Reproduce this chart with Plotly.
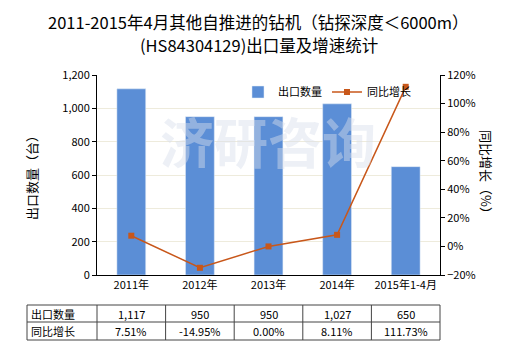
import plotly.graph_objects as go

categories = ["2011年", "2012年", "2013年", "2014年", "2015年1-4月"]
export_qty = [1117, 950, 950, 1027, 650]
growth = [7.51, -14.95, 0.00, 8.11, 111.73]
qty_labels = ["1,117", "950", "950", "1,027", "650"]
growth_labels = ["7.51%", "-14.95%", "0.00%", "8.11%", "111.73%"]
row_names = ["出口数量", "同比增长"]

FONT = "Noto Sans CJK SC"
bar_color = "#5B8ED6"
line_color = "#C8571A"

fig = go.Figure()
fig.add_trace(go.Bar(x=categories, y=export_qty, name="出口数量", marker_color=bar_color,
                     width=0.42, yaxis="y"))
fig.add_trace(go.Scatter(x=categories, y=growth, name="同比增长", yaxis="y2",
                         mode="lines+markers", line=dict(color=line_color, width=1.5),
                         marker=dict(symbol="square", size=6, color=line_color)))

L, R, T, B = 97, 80, 75, 75
W, H = 520, 350
pw, ph = W - L - R, H - T - B

def px2x(p):
    return (p - L) / pw

def px2y(p):
    return (H - B - p) / ph

shapes = []
annotations = []
# table
top, mid, bot = 305, 322, 340
left = 27
cols = [left, 97] + [97 + pw * (i + 1) / len(categories) for i in range(len(categories))]
line_style = dict(color="#444", width=1)
for yy in (top, mid, bot):
    shapes.append(dict(type="line", xref="paper", yref="paper", x0=px2x(left), x1=px2x(cols[-1]),
                       y0=px2y(yy), y1=px2y(yy), line=line_style))
for xx in cols:
    shapes.append(dict(type="line", xref="paper", yref="paper", x0=px2x(xx), x1=px2x(xx),
                       y0=px2y(top), y1=px2y(bot), line=line_style))
for r, (name, labels) in enumerate(zip(row_names, [qty_labels, growth_labels])):
    yc = px2y((top + mid) / 2 if r == 0 else (mid + bot) / 2)
    annotations.append(dict(x=px2x(left + 2), y=yc, xref="paper", yref="paper", text=name,
                            showarrow=False, xanchor="left", yanchor="middle",
                            font=dict(size=11, color="#000")))
    for i, lab in enumerate(labels):
        xc = px2x((cols[i + 1] + cols[i + 2]) / 2)
        annotations.append(dict(x=xc, y=yc, xref="paper", yref="paper", text=lab,
                                showarrow=False, xanchor="center", yanchor="middle",
                                font=dict(size=11, color="#000")))

# watermark
annotations.append(dict(x=px2x(268), y=px2y(140), xref="paper", yref="paper", text="<b>济研咨询</b>",
                        showarrow=False, xanchor="center", yanchor="middle",
                        font=dict(size=54, color="rgba(215,222,235,0.45)", family=FONT)))

# title
annotations.append(dict(x=px2x(258), y=px2y(22), xref="paper", yref="paper",
                        text="2011-2015年4月其他自推进的钻机（钻探深度＜6000m）",
                        showarrow=False, xanchor="center", yanchor="middle",
                        font=dict(size=16.5, color="#000")))
annotations.append(dict(x=px2x(259), y=px2y(45), xref="paper", yref="paper",
                        text="(HS84304129)出口量及增速统计",
                        showarrow=False, xanchor="center", yanchor="middle",
                        font=dict(size=16.5, color="#000")))
# axis titles
annotations.append(dict(x=px2x(31), y=px2y(175), xref="paper", yref="paper",
                        text="出口数量（台）", textangle=-90,
                        showarrow=False, xanchor="center", yanchor="middle",
                        font=dict(size=13, color="#000")))
annotations.append(dict(x=px2x(487), y=px2y(175), xref="paper", yref="paper",
                        text="同比增长（%）", textangle=90,
                        showarrow=False, xanchor="center", yanchor="middle",
                        font=dict(size=13, color="#000")))

fig.update_layout(
    width=W, height=H,
    margin=dict(l=L, r=R, t=T, b=B),
    paper_bgcolor="white", plot_bgcolor="white",
    font=dict(family=FONT, size=11, color="#000"),
    xaxis=dict(showline=True, linecolor="#000", linewidth=1, ticks="", tickfont=dict(size=11),
               showgrid=False),
    yaxis=dict(range=[0, 1200], dtick=200, tickformat=",d", showline=True, linecolor="#000",
               ticks="outside", ticklen=4, tickcolor="#000", gridcolor="#EEEBDC",
               tickfont=dict(size=11), zeroline=False),
    yaxis2=dict(range=[-20, 120], dtick=20, ticksuffix="%", overlaying="y", side="right",
                showline=True, linecolor="#000", ticks="outside", ticklen=4, tickcolor="#000",
                showgrid=False, zeroline=False, tickfont=dict(size=11)),
    legend=dict(orientation="h", x=0.93, xanchor="right", y=0.915, yanchor="middle",
                bgcolor="rgba(0,0,0,0)", font=dict(size=11)),
    shapes=shapes,
    annotations=annotations,
)

fig.write_html("out.html")
